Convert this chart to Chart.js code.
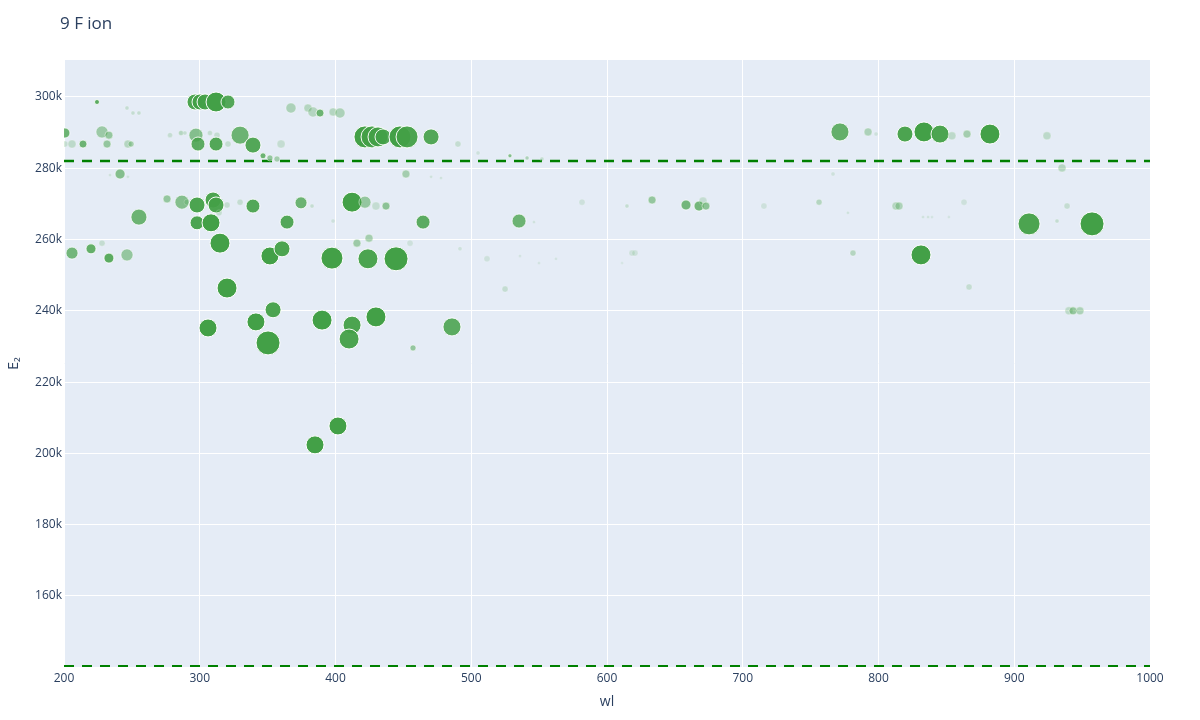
<!DOCTYPE html>
<html>
<head>
<meta charset="utf-8">
<script src="https://cdn.jsdelivr.net/npm/chart.js@4"></script>
<style>
  html, body { margin: 0; padding: 0; background: #fff; }
  #wrap { width: 1200px; height: 720px; }
</style>
</head>
<body>
<div id="wrap"><canvas id="myChart" width="1200" height="720"></canvas></div>
<script>
// line wavelengths (wl) and upper level energies (E2, in k)
const wl = [224.3, 246.4, 250.8, 255.2, 296.5, 300.2, 303.9, 312.0, 320.8, 367.2, 379.7, 383.4, 388.6, 398.2, 403.3,
  200.7, 228.0, 233.1, 278.1, 286.2, 289.1, 297.2, 307.5, 312.7, 329.7, 339.2, 200.7, 205.9, 214.0, 231.7, 247.1, 249.4, 298.7, 312.0, 320.8, 359.9, 346.6, 351.7, 356.9,
  421.7, 426.9, 431.3, 435.0, 447.5, 452.7, 470.4, 490.2, 505.0, 528.5, 541.1, 552.1,
  771.6, 792.3, 798.2, 819.5, 833.5, 845.3, 854.1, 865.2, 882.1, 924.1, 935.2, 766.5,
  241.3, 233.9, 247.1, 451.9, 470.4, 477.7,
  275.9, 286.9, 290.6, 298.0, 309.8, 312.0, 320.1, 329.7, 339.2, 374.6, 382.7, 412.2, 421.7, 429.8, 437.2,
  255.2, 298.0, 308.3, 314.2, 364.3, 398.2, 464.5, 535.2, 546.2,
  581.6, 614.7, 633.2, 658.2, 667.8, 670.7, 672.9, 715.6, 756.2, 777.5, 812.9, 815.1, 863.0,
  832.8, 836.5, 839.4, 851.9, 910.9, 957.3, 938.9, 931.5,
  205.9, 219.9, 228.0, 233.1, 246.4, 314.9, 351.7, 360.6, 397.4, 415.8, 424.7, 454.9, 423.9, 444.6, 491.7, 511.6, 535.9, 549.9, 562.4, 618.4, 620.6, 611.1, 781.2, 831.3, 524.9, 866.7, 320.1,
  354.0, 341.4, 306.1, 350.3, 390.1, 412.2, 410.0, 429.8, 485.8, 457.1, 940.3, 943.3, 948.4,
  401.8, 384.9];

const E2k = [298.6, 296.9, 295.5, 295.5, 298.6, 298.6, 298.6, 298.6, 298.6, 296.9, 296.9, 295.8, 295.5, 295.8, 295.5,
  289.9, 290.2, 289.3, 289.3, 289.9, 289.9, 289.3, 289.9, 289.3, 289.3, 286.5, 286.8, 286.8, 286.8, 286.8, 286.8, 286.8, 286.8, 286.8, 286.8, 286.8, 283.5, 282.9, 282.6,
  288.8, 288.8, 288.8, 288.8, 288.8, 288.8, 288.8, 286.8, 284.3, 283.5, 282.9, 282.6,
  290.2, 290.2, 289.6, 289.6, 290.2, 289.6, 289.1, 289.6, 289.6, 289.1, 280.1, 278.4,
  278.4, 278.1, 277.6, 278.4, 277.6, 277.3,
  271.4, 270.5, 270.5, 269.7, 271.1, 269.7, 269.7, 270.5, 269.4, 270.3, 269.4, 270.5, 270.5, 269.4, 269.4,
  266.3, 264.7, 264.7, 267.5, 264.9, 265.2, 264.9, 265.2, 264.9,
  270.5, 269.4, 271.1, 269.7, 269.4, 270.8, 269.4, 269.4, 270.5, 267.5, 269.4, 269.4, 270.5,
  266.3, 266.3, 266.3, 266.3, 264.4, 264.4, 269.4, 265.2,
  256.2, 257.4, 259.0, 254.8, 255.7, 259.0, 255.4, 257.4, 254.8, 259.0, 260.4, 259.0, 254.6, 254.6, 257.4, 254.6, 255.4, 253.4, 254.6, 256.2, 256.2, 253.4, 256.2, 255.7, 246.1, 246.7, 246.4,
  240.3, 236.9, 235.2, 231.0, 237.4, 236.0, 232.1, 238.3, 235.5, 229.6, 240.0, 240.0, 240.0,
  207.7, 202.4];

// relative line intensity (bubble size) and weight (bubble opacity)
const intensity = [2.5, 2, 2, 2, 8, 8, 8, 10, 7, 5, 4, 5, 4, 4, 5,
  5, 6, 4, 2.5, 2.5, 2, 7, 2.5, 3, 9, 8, 3, 4, 4, 4, 4, 3, 7, 7, 3, 4, 3, 3, 3,
  11, 11, 10, 8, 11, 11, 8, 3, 2, 2, 2, 2,
  9, 4, 2, 8, 10, 9, 4, 4, 10, 4, 4, 2,
  5, 1.5, 1.5, 4, 1.5, 1.5,
  4, 7, 3, 8, 8, 8, 3, 3, 7, 6, 2, 10, 6, 4, 4,
  8, 7, 9, 3, 7, 2, 7, 7, 1.5,
  3, 2, 4, 5, 5, 4, 4, 3, 3, 1.5, 4, 4, 3,
  1.5, 1.5, 1.5, 1.5, 11, 12, 3, 2,
  6, 5, 3, 5, 6, 10, 9, 8, 11, 4, 4, 3, 10, 12, 2, 3, 1.5, 1.5, 1.5, 3, 3, 1.5, 3, 10, 3, 3, 10,
  8, 9, 9, 12, 10, 9, 10, 10, 9, 3, 4, 4, 4,
  9, 9];

const weight = [.85, .2, .2, .2, .95, .95, .95, 1, .9, .35, .3, .3, .75, .3, .35,
  .75, .45, .5, .2, .3, .2, .6, .2, .2, .75, .9, .2, .25, .75, .5, .3, .4, .85, .9, .2, .2, .75, .5, .4,
  1, .95, .95, .9, 1, .95, .9, .2, .15, .6, .35, .2,
  .8, .35, .15, .95, 1, .95, .25, .4, 1, .25, .3, .15,
  .6, .15, .15, .4, .15, .15,
  .5, .6, .2, .95, .95, .95, .2, .2, .9, .75, .2, 1, .5, .2, .55,
  .75, .95, 1, .2, .9, .15, .85, .75, .15,
  .15, .2, .5, .7, .7, .2, .55, .15, .3, .15, .3, .35, .15,
  .15, .15, .12, .12, .95, 1, .2, .2,
  .7, .8, .2, .85, .5, 1, 1, .95, 1, .45, .4, .15, .95, 1, .15, .15, .12, .12, .12, .15, .15, .1, .3, 1, .2, .2, 1,
  .95, 1, 1, 1, 1, .95, .95, 1, .85, .5, .25, .5, .35,
  1, 1];

// limits shown as dashed lines
const limitsE = [282050, 140300];
const xRange = [200, 1000];
const yRange = [140080, 310380];
const xTicks = [200, 300, 400, 500, 600, 700, 800, 900, 1000];
const yTicks = [160000, 180000, 200000, 220000, 240000, 260000, 280000, 300000];

const fontFam = '"Open Sans", verdana, arial, sans-serif';
const textCol = '#2a3f5f';

const bubbles = wl.map((w, i) => ({ x: w, y: E2k[i] * 1000, r: intensity[i] }));
const fills = weight.map(a => 'rgba(67,160,71,' + a + ')');
const borders = weight.map(a => 'rgba(255,255,255,' + a + ')');

const limitSets = limitsE.map(e => ({
  type: 'line',
  data: [{ x: xRange[0], y: e }, { x: xRange[1], y: e }],
  borderColor: '#008000',
  borderWidth: 2.5,
  borderDash: [10, 8],
  pointRadius: 0,
  clip: 0
}));

const plotBg = {
  id: 'plotBg',
  beforeDraw(chart) {
    const { ctx, chartArea: a } = chart;
    ctx.save();
    ctx.fillStyle = '#fff';
    ctx.fillRect(0, 0, chart.width, chart.height);
    ctx.fillStyle = '#e5ecf6';
    ctx.fillRect(a.left, a.top, a.right - a.left, a.bottom - a.top);
    ctx.restore();
  },
  afterDraw(chart) {
    const { ctx, chartArea: a } = chart;
    ctx.save();
    ctx.fillStyle = textCol;
    ctx.textBaseline = 'middle';
    ctx.font = '17px ' + fontFam;
    ctx.textAlign = 'left';
    ctx.fillText('9 F ion', 60, 24);
    ctx.font = '14px ' + fontFam;
    ctx.textAlign = 'center';
    ctx.fillText('wl', (a.left + a.right) / 2, 702);
    ctx.translate(14, (a.top + a.bottom) / 2);
    ctx.rotate(-Math.PI / 2);
    ctx.fillText('E\u2082', 0, 0);
    ctx.restore();
  }
};

new Chart(document.getElementById('myChart'), {
  type: 'bubble',
  data: {
    datasets: [{
      data: bubbles,
      backgroundColor: fills,
      borderColor: borders,
      borderWidth: 1,
      clip: 0
    }, ...limitSets]
  },
  options: {
    responsive: false,
    animation: false,
    layout: { padding: { top: 60, right: 50, left: 0, bottom: 0 } },
    plugins: { legend: { display: false }, tooltip: { enabled: false } },
    scales: {
      x: {
        type: 'linear',
        min: xRange[0],
        max: xRange[1],
        afterBuildTicks: s => { s.ticks = xTicks.map(v => ({ value: v })); },
        afterFit: s => { s.height = 53; },
        grid: { color: '#fff', lineWidth: 1, drawTicks: false },
        border: { display: false },
        ticks: {
          padding: 4,
          color: textCol,
          font: { family: fontFam, size: 12 },
          maxRotation: 0,
          callback: v => String(v)
        }
      },
      y: {
        type: 'linear',
        min: yRange[0],
        max: yRange[1],
        afterBuildTicks: s => { s.ticks = yTicks.map(v => ({ value: v })); },
        afterFit: s => { s.width = 64; },
        grid: { color: '#fff', lineWidth: 1, drawTicks: false },
        border: { display: false },
        ticks: {
          padding: 2,
          color: textCol,
          font: { family: fontFam, size: 12 },
          callback: v => (v / 1000) + 'k'
        }
      }
    }
  },
  plugins: [plotBg]
});
</script>
</body>
</html>
